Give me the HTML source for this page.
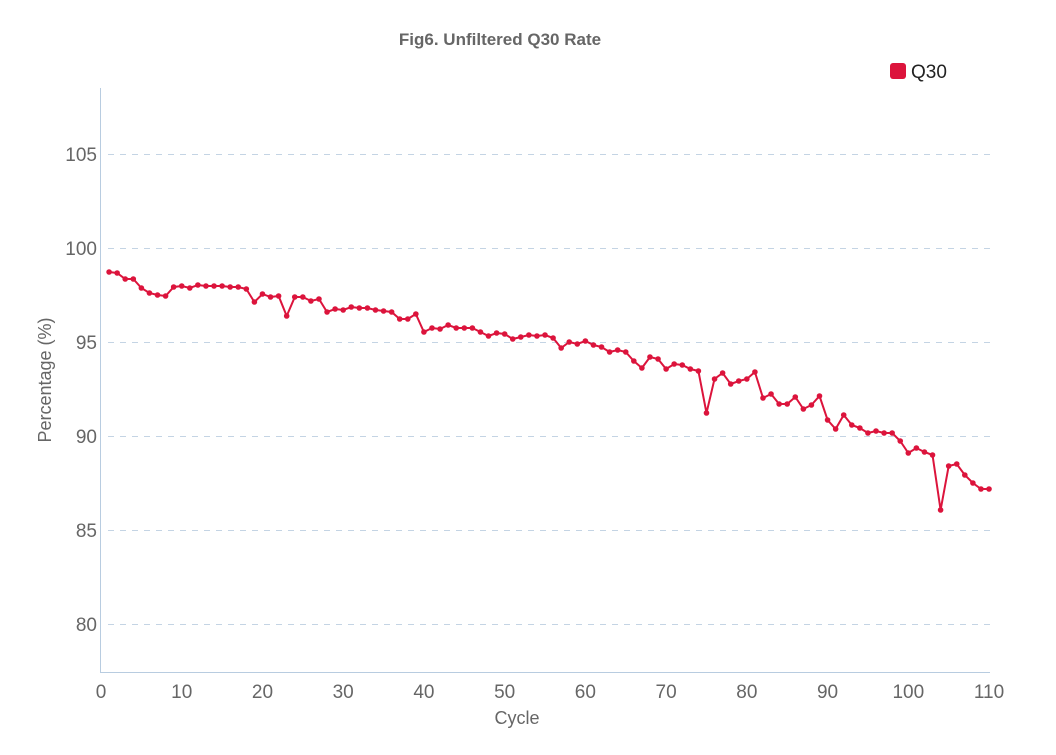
<!DOCTYPE html>
<html><head><meta charset="utf-8"><style>
body{margin:0;background:#fff;font-family:"Liberation Sans",sans-serif}
</style></head><body>
<svg id="s" width="1056" height="750" xmlns="http://www.w3.org/2000/svg" font-family="Liberation Sans, sans-serif">
<text x="500" y="45" text-anchor="middle" font-size="17" font-weight="bold" fill="#666">Fig6. Unfiltered Q30 Rate</text>
<rect x="890" y="63" width="16" height="16" rx="3" fill="#dc143c"/>
<text x="911" y="78" font-size="19" fill="#222">Q30</text>
<g stroke="#c4d4e4" stroke-dasharray="6,6" stroke-width="1">
<line x1="108" x2="990" y1="154.5" y2="154.5"/><line x1="108" x2="990" y1="248.5" y2="248.5"/>
<line x1="108" x2="990" y1="342.5" y2="342.5"/><line x1="108" x2="990" y1="436.5" y2="436.5"/>
<line x1="108" x2="990" y1="530.5" y2="530.5"/><line x1="108" x2="990" y1="624.5" y2="624.5"/>
</g>
<line x1="100.5" x2="100.5" y1="88" y2="672" stroke="#b8cce0"/>
<line x1="100" x2="990" y1="672.5" y2="672.5" stroke="#b8cce0"/>
<g font-size="19" fill="#666" text-anchor="end">
<text x="97" y="161">105</text><text x="97" y="255">100</text><text x="97" y="349">95</text>
<text x="97" y="443">90</text><text x="97" y="537">85</text><text x="97" y="631">80</text>
</g>
<g id="xt" font-size="19" fill="#666" text-anchor="middle"></g>
<text x="517" y="724" text-anchor="middle" font-size="18" fill="#666">Cycle</text>
<text transform="translate(51,380) rotate(-90)" text-anchor="middle" font-size="18" fill="#666">Percentage (%)</text>
<g id="d"></g>
</svg>
<script>
var ys=[272,273,279,279,288,293,295,296,287,286,288,285,286,286,286,287,287,289,302,294,297,296,316,297,297,301,299,312,309,310,307,308,308,310,311,312,319,319,314,332,328,329,325,328,328,328,332,336,333,334,339,337,335,336,335,338,348,342,344,341,345,347,352,350,352,361,368,357,359,369,364,365,369,371,413,379,373,384,381,379,372,398,394,404,404,397,409,405,396,420,429,415,425,428,433,431,433,433,441,453,448,452,455,510,466,464,475,483,489,489];
var ns="http://www.w3.org/2000/svg",d=document.getElementById("d"),pts=[];
function X(i){return 101+8.073*i}
ys.forEach(function(y,i){pts.push(X(i+1).toFixed(1)+","+y)});
var pl=document.createElementNS(ns,"polyline");pl.setAttribute("points",pts.join(" "));
pl.setAttribute("fill","none");pl.setAttribute("stroke","#dc143c");pl.setAttribute("stroke-width","2");d.appendChild(pl);
ys.forEach(function(y,i){var c=document.createElementNS(ns,"circle");c.setAttribute("cx",X(i+1));c.setAttribute("cy",y);c.setAttribute("r","2.8");c.setAttribute("fill","#dc143c");d.appendChild(c)});
var xt=document.getElementById("xt");
for(var v=0;v<=110;v+=10){var t=document.createElementNS(ns,"text");t.setAttribute("x",X(v));t.setAttribute("y",698);t.textContent=v;xt.appendChild(t)}
</script>
</body></html>
